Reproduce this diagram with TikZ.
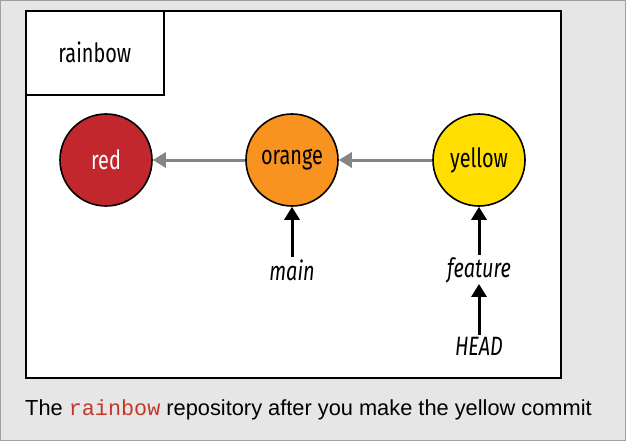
\documentclass[tikz,border=0pt]{standalone}
\usepackage{fontspec}
\setmainfont{Liberation Sans}
\setmonofont{Liberation Mono}
\newfontfamily\cond[FakeStretch=0.75]{Fira Sans}
\usetikzlibrary{arrows.meta}
\definecolor{bggray}{HTML}{E6E6E6}
\definecolor{bordergray}{HTML}{A0A0A0}
\definecolor{cred}{HTML}{C1272D}
\definecolor{corange}{HTML}{F7931E}
\definecolor{cyellow}{HTML}{FFDE00}
\definecolor{arrgray}{HTML}{858585}
\definecolor{codered}{HTML}{C0392B}
\begin{document}
\begin{tikzpicture}[x=1pt,y=-1pt,
  commit/.style={circle,draw=black,line width=1.6pt,minimum size=92pt,inner sep=0pt,font=\cond\fontsize{26.5}{30}\selectfont},
  refname/.style={font=\cond\itshape\fontsize{26.5}{30}\selectfont,inner sep=1pt},
  parentarrow/.style={draw=arrgray,line width=3pt,-{Triangle[width=15pt,length=13pt]}},
  refarrow/.style={draw=black,line width=3pt,-{Triangle[width=15pt,length=13pt]}}]
\useasboundingbox (0,0) rectangle (626,441);
\fill[bggray] (0,0) rectangle (626,441);
\draw[bordergray,line width=1pt] (0.5,0.5) rectangle (625.5,440.5);
\node[draw=black,fill=white,line width=1.6pt,minimum width=535pt,minimum height=367pt,inner sep=0pt,anchor=north west] (repo) at (25,10) {};
\node[draw=black,fill=white,line width=1.6pt,minimum width=138pt,minimum height=84pt,inner sep=0pt,anchor=north west,font=\cond\fontsize{26.5}{30}\selectfont] (label) at (25,10) {rainbow};
\node[commit,fill=cred,text=white] (red) at (106,160) {red};
\node[commit,fill=corange] (orange) at (292,160) {orange};
\node[commit,fill=cyellow] (yellow) at (479,160) {yellow};
\draw[parentarrow] (orange) -- (red);
\draw[parentarrow] (yellow) -- (orange);
\node[refname] (main) at (292,270) {main};
\node[refname] (feature) at (479,270) {feature};
\node[refname] (head) at (479,346) {HEAD};
\draw[refarrow] (main.north) ++(0,-1) coordinate (m1) (m1) -- (orange.south);
\draw[refarrow] (feature.north) ++(0,-1) coordinate (f1) (f1) -- (yellow.south);
\draw[refarrow] (head.north) ++(0,-1) coordinate (h1) (h1) -- (feature.south);
\node[anchor=west,inner sep=0pt,font=\fontsize{21.8}{25}\selectfont] (caption) at (25,410) {The {\ttfamily\color{codered}rainbow} repository after you make the yellow commit};
\end{tikzpicture}
\end{document}
